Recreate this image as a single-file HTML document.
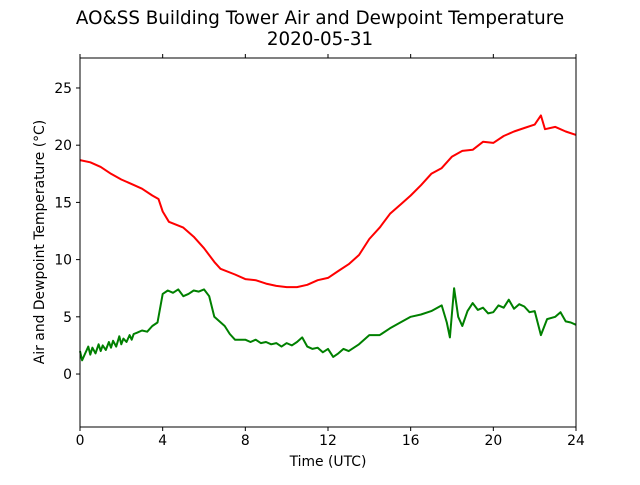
<!DOCTYPE html>
<html><head><meta charset="utf-8"><style>
body{margin:0;background:#fff}
svg text{font-family:"DejaVu Sans","Liberation Sans",sans-serif;fill:#000}
</style></head><body>
<svg id="c" width="640" height="480" viewBox="0 0 640 480" xmlns="http://www.w3.org/2000/svg">
<text x="320" y="24" text-anchor="middle" font-size="18.3">AO&amp;SS Building Tower Air and Dewpoint Temperature</text>
<text x="320" y="45" text-anchor="middle" font-size="18.3">2020-05-31</text>
<text x="328" y="466" text-anchor="middle" font-size="13.9">Time (UTC)</text>
<text transform="translate(44,242) rotate(-90)" text-anchor="middle" font-size="13.9">Air and Dewpoint Temperature (°C)</text>
</svg>
<script>
const airT=[0,0.5,1,1.5,2,2.5,3,3.5,3.8,4,4.3,5,5.5,6,6.5,6.8,7.5,8,8.5,9,9.5,10,10.5,11,11.5,12,12.5,13,13.5,14,14.5,15,15.5,16,16.5,17,17.5,18,18.5,19,19.5,20,20.5,21,21.5,22,22.3,22.5,23,23.5,24];
const airV=[18.7,18.5,18.1,17.5,17.0,16.6,16.2,15.6,15.3,14.2,13.3,12.8,12.0,11.0,9.8,9.2,8.7,8.3,8.2,7.9,7.7,7.6,7.6,7.8,8.2,8.4,9.0,9.6,10.4,11.8,12.8,14.0,14.8,15.6,16.5,17.5,18.0,19.0,19.5,19.6,20.3,20.2,20.8,21.2,21.5,21.8,22.6,21.4,21.6,21.2,20.9];
const dewT=[0,0.1,0.25,0.4,0.5,0.6,0.75,0.9,1,1.1,1.25,1.4,1.5,1.6,1.75,1.9,2,2.1,2.25,2.4,2.5,2.6,2.75,3,3.25,3.5,3.75,4,4.25,4.5,4.75,5,5.25,5.5,5.75,6,6.25,6.5,6.75,7,7.25,7.5,8,8.25,8.5,8.75,9,9.25,9.5,9.75,10,10.25,10.5,10.75,11,11.25,11.5,11.75,12,12.25,12.5,12.75,13,13.5,14,14.5,15,15.5,16,16.5,17,17.5,17.75,17.9,18.1,18.3,18.5,18.75,19,19.25,19.5,19.75,20,20.25,20.5,20.75,21,21.25,21.5,21.75,22,22.3,22.6,23,23.25,23.5,23.75,24];
const dewV=[2.0,1.2,1.8,2.4,1.7,2.3,1.8,2.6,2.0,2.5,2.1,2.8,2.3,2.9,2.4,3.3,2.6,3.1,2.8,3.4,3.0,3.5,3.6,3.8,3.7,4.2,4.5,7.0,7.3,7.1,7.4,6.8,7.0,7.3,7.2,7.4,6.8,5.0,4.6,4.2,3.5,3.0,3.0,2.8,3.0,2.7,2.8,2.6,2.7,2.4,2.7,2.5,2.8,3.2,2.4,2.2,2.3,1.9,2.2,1.5,1.8,2.2,2.0,2.6,3.4,3.4,4.0,4.5,5.0,5.2,5.5,6.0,4.5,3.2,7.5,5.0,4.2,5.5,6.2,5.6,5.8,5.3,5.4,6.0,5.8,6.5,5.7,6.1,5.9,5.4,5.5,3.4,4.8,5.0,5.4,4.6,4.5,4.3];
const xTicks=[0,4,8,12,16,20,24];
const yTicks=[0,5,10,15,20,25];
const L=80,R=576,T=58,B=427,yMin=-4.63,yMax=27.62;
const sx=v=>L+(v/24)*(R-L);
const sy=v=>B-(v-yMin)/(yMax-yMin)*(B-T);
const svg=document.getElementById('c');
const NS='http://www.w3.org/2000/svg';
function mk(tag,attrs){const e=document.createElementNS(NS,tag);for(const k in attrs)e.setAttribute(k,attrs[k]);svg.appendChild(e);return e;}
function line(t,v,color,name){
 const p=mk('path',{d:t.map((x,i)=>(i?'L':'M')+sx(x).toFixed(1)+','+sy(v[i]).toFixed(1)).join(''),fill:'none',stroke:color,'stroke-width':2,'stroke-linejoin':'round'});
 
 
}
line(airT,airV,'#ff0000','air-temperature-line');
line(dewT,dewV,'#008000','dewpoint-line');
const frame=mk('rect',{x:L,y:T,width:R-L,height:B-T,fill:'none',stroke:'#000','stroke-width':1});


xTicks.forEach(v=>{
 const x=sx(v);
 const tk=mk('line',{x1:x,x2:x,y1:B,y2:B+4,stroke:'#000'});
 
 
 const tk2=mk('line',{x1:x,x2:x,y1:T,y2:T-4,stroke:'#000'});
 
 
 const t=mk('text',{x:x,y:B+18,'text-anchor':'middle','font-size':13.9});
 t.textContent=v;
 
 
});
yTicks.forEach(v=>{
 const y=sy(v);
 const tk=mk('line',{x1:L-4,x2:L,y1:y,y2:y,stroke:'#000'});
 
 
 const t=mk('text',{x:L-8,y:y+5,'text-anchor':'end','font-size':13.9});
 t.textContent=v;
 
 
});
</script>
</body></html>
